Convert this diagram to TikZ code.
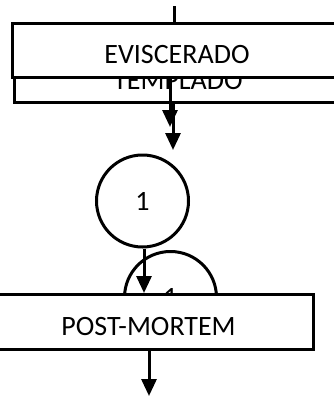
\documentclass[tikz,border=0pt]{standalone}
\usepackage{fontspec}
\setmainfont{Carlito}
\usetikzlibrary{arrows.meta}
\newcommand\lowtext[2]{\raisebox{-#1}[\height][\depth]{#2}}
\begin{document}
\begin{tikzpicture}[x=1pt,y=-1pt, line width=3pt,
  box/.style={draw, fill=white, inner sep=0pt, font=\fontsize{28}{34}\selectfont},
  circ/.style={draw, fill=white, circle, minimum size=92pt, inner sep=0pt, font=\fontsize{28}{34}\selectfont},
  arr/.style={-{Triangle[width=15pt,length=17pt]}}]
\useasboundingbox (0,0) rectangle (334,397);
\clip (0,0) rectangle (334,397);
\node[box, minimum width=328pt, minimum height=46pt] (tp) at (178,79) {\lowtext{1.5pt}{TEMPLADO}};
\coordinate (top) at (174,6);
\node[box, minimum width=330pt, minimum height=54pt] (ev) at (177,50) {\lowtext{5pt}{EVISCERADO}};
\draw (top) -- (top |- ev.north);
\coordinate (e1) at (170,127);
\coordinate (e2) at (173,150);
\draw[arr] (e1 |- ev.south) -- (e1);
\draw[arr] (e2 |- tp.south) -- (e2);
\node[circ] (c1) at (142.5,201) {1};
\node[circ] (c2) at (170.5,297.5) {1};
\node[box, minimum width=329pt, minimum height=55pt] (pm) at (148.5,322) {\lowtext{4.5pt}{POST-MORTEM}};
\draw[arr] ([xshift=1.5pt]c1.south) -- ([xshift=1.5pt]c1.south |- pm.north);
\coordinate (out) at (149,396);
\draw[arr] (out |- pm.south) -- (out);
\end{tikzpicture}
\end{document}
